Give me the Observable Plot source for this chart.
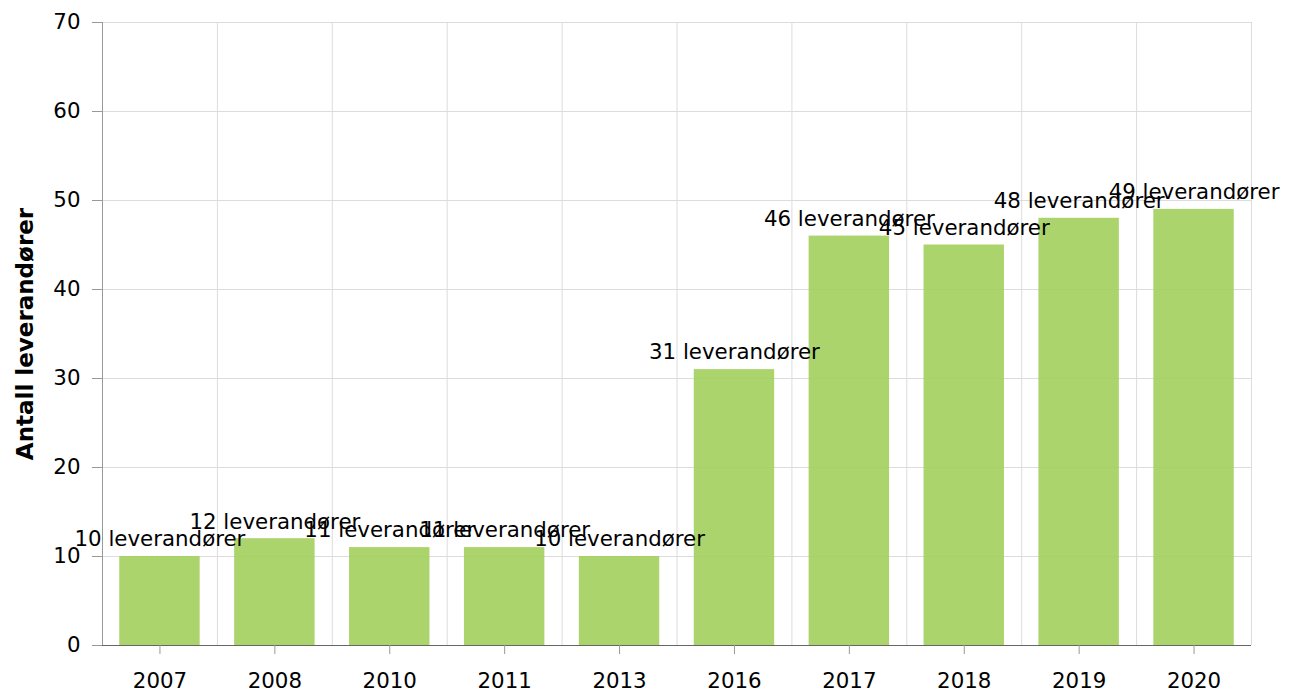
<!DOCTYPE html>
<html>
<head>
<meta charset="utf-8">
<script src="https://cdn.jsdelivr.net/npm/d3@7"></script>
<script src="https://cdn.jsdelivr.net/npm/@observablehq/plot@0.6"></script>
<style>
  html, body { margin: 0; padding: 0; background: #fff; }
</style>
</head>
<body>
<div id="chart"></div>
<script>
const years = ["2007","2008","2010","2011","2013","2016","2017","2018","2019","2020"];
const counts = [10, 12, 11, 11, 10, 31, 46, 45, 48, 49];
const unit = "leverandører";
const yTitle = "Antall leverandører";
const yTicks = [0, 10, 20, 30, 40, 50, 60, 70];

const data = years.map((y, i) => ({year: y, value: counts[i], label: `${counts[i]} ${unit}`}));

const W = 1298, H = 693, ML = 102, MR = 47, MT = 22, MB = 48;
const step = (W - ML - MR) / years.length;
const FS = 21.33;

const chart = Plot.plot({
  width: W,
  height: H,
  marginLeft: ML,
  marginRight: MR,
  marginTop: MT,
  marginBottom: MB,
  style: {fontFamily: "DejaVu Sans, Verdana, sans-serif", fontSize: FS + "px", color: "#000", background: "#fff"},
  x: {domain: years, paddingInner: 0.3, paddingOuter: 0.15, round: false, label: null},
  y: {domain: [0, 70], label: null},
  marks: [
    Plot.gridY(yTicks, {stroke: "#dcdcdc", strokeOpacity: 1}),
    Plot.ruleX(years, {x: d => d, dx: -step / 2, stroke: "#dcdcdc", strokeOpacity: 1}),
    Plot.ruleX(years.slice(-1), {x: d => d, dx: step / 2, stroke: "#dcdcdc", strokeOpacity: 1}),
    Plot.frame({anchor: "left", stroke: "#999"}),
    Plot.ruleY([0], {stroke: "#666"}),
    Plot.axisY({ticks: yTicks, tickSize: 10, tickPadding: 12, stroke: "#999", fontSize: FS, label: null}),
    Plot.axisX({tickSize: 9, tickPadding: 18, stroke: "#999", fontSize: FS, label: null}),
    Plot.barY(data, {x: "year", y: "value", fill: "#a3cf5c", fillOpacity: 0.9}),
    Plot.text(data, {x: "year", y: "value", text: "label", dy: -17, fontSize: FS, fill: "#000"}),
    Plot.text([yTitle], {frameAnchor: "left", textAnchor: "middle", dx: -77, rotate: -90, fontWeight: "bold", fontSize: 23, fill: "#000"})
  ]
});
document.getElementById("chart").appendChild(chart);
</script>
</body>
</html>
